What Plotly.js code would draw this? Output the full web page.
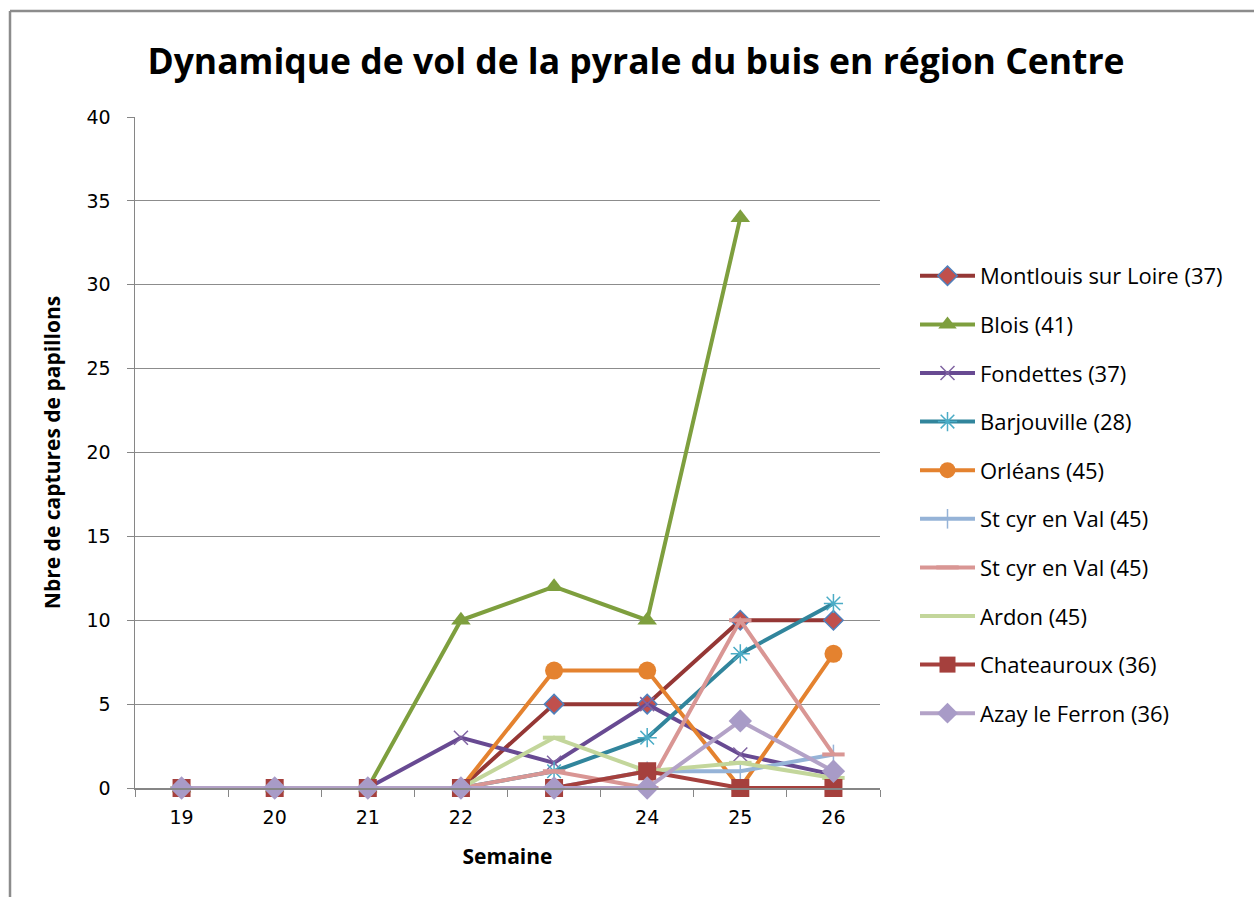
<!DOCTYPE html>
<html>
<head>
<meta charset="utf-8">
<script src="https://cdn.plot.ly/plotly-3.0.1.min.js"></script>
<style>html,body{margin:0;padding:0;background:#fff;}#chart{width:1254px;height:897px;}</style>
</head>
<body>
<div id="chart"></div>
<script>
const weeks = ['19','20','21','22','23','24','25','26'];
const seriesNames = ['Montlouis sur Loire (37)','Blois (41)','Fondettes (37)','Barjouville (28)','Orléans (45)','St cyr en Val (45)','St cyr en Val (45)','Ardon (45)','Chateauroux (36)','Azay le Ferron (36)'];
const montlouis   = [0,0,0,0,5,5,10,10];
const blois       = [0,0,0,10,12,10,34,null];
const fondettes   = [0,0,0,3,1.5,5,2,0.8];
const barjouville = [0,0,0,0,1,3,8,11];
const orleans     = [0,0,0,0,7,7,0,8];
const stcyr1      = [0,0,0,0,0,1,1,2];
const stcyr2      = [0,0,0,0,1,0,10,2];
const ardon       = [0,0,0,0,3,1,1.5,0.6];
const chateauroux = [0,0,0,0,0,1,0,0];
const azay        = [0,0,0,0,0,0,4,1];
const values = [montlouis,blois,fondettes,barjouville,orleans,stcyr1,stcyr2,ardon,chateauroux,azay];

const styles = [
  {line:'#953735', marker:{symbol:'diamond', size:15, color:'#C0504D', line:{color:'#4F81BD', width:1.5}}},
  {line:'#7E9F3E', marker:{symbol:'triangle-up', size:17, color:'#7E9F3E'}},
  {line:'#684A92', marker:{symbol:'x-thin-open', size:14, color:'#8064A2', line:{color:'#8064A2', width:1.5}}},
  {line:'#31859C', marker:{symbol:'asterisk-open', size:16, color:'#4BACC6', line:{color:'#4BACC6', width:1.5}}},
  {line:'#E4822F', marker:{symbol:'circle', size:18, color:'#E4822F'}},
  {line:'#95B3D7', marker:{symbol:'line-ns-open', size:14, color:'#95B3D7', line:{color:'#95B3D7', width:1.5}}},
  {line:'#D99694', marker:{symbol:'line-ew-open', size:16, color:'#D99694', line:{color:'#D99694', width:4}}},
  {line:'#C3D69B', marker:{symbol:'line-ew-open', size:16, color:'#C3D69B', line:{color:'#C3D69B', width:4}}},
  {line:'#A5403D', marker:{symbol:'square', size:18, color:'#A5403D'}},
  {line:'#B3A2C7', marker:{symbol:'diamond', size:18, color:'#A89BC7'}}
];

const traces = seriesNames.map((n,i)=>({
  type:'scatter', mode:'lines+markers', name:n, x:weeks, y:values[i],
  line:{color:styles[i].line, width:4}, marker:styles[i].marker,
  legendgroup:'g'+i, connectgaps:false, cliponaxis:false
}));

const L=135, R=880, T=117, B=788;
const px = v => (v-L)/(R-L), py = v => (B-v)/(B-T);

const layout = {
  width:1254, height:897,
  margin:{l:L, r:1254-R, t:T, b:897-B},
  paper_bgcolor:'#fff', plot_bgcolor:'#fff',
  font:{family:'Open Sans, sans-serif', color:'#000'},
  title:{text:'<b>Dynamique de vol de la pyrale du buis en région Centre</b>', x:636/1254, xanchor:'center', y:1-62/897, yanchor:'middle', font:{size:35.5, family:'Open Sans', color:'#000'}},
  xaxis:{type:'category', range:[-0.5,7.5], tickson:'boundaries', ticks:'outside', ticklen:7, tickcolor:'#868686', showline:true, linecolor:'#868686', linewidth:1.5, showgrid:false, zeroline:false,
    ticklabelstandoff:12,
    tickfont:{size:19, family:'DejaVu Sans', color:'#000'},
    title:{text:'<b>Semaine</b>', font:{size:21, family:'Open Sans', color:'#000'}, standoff:22}},
  yaxis:{range:[0,40], dtick:5, ticks:'outside', ticklen:7, tickcolor:'#868686', showline:true, linecolor:'#868686', linewidth:1.5, showgrid:true, gridcolor:'#8c8c8c', gridwidth:1, zeroline:false,
    ticklabelstandoff:12,
    tickfont:{size:19, family:'DejaVu Sans', color:'#000'},
    title:{text:'<b>Nbre de captures de papillons</b>', font:{size:21, family:'Open Sans', color:'#000'}, standoff:20}},
  legend:{x:px(915), xanchor:'left', y:py(255), yanchor:'top', font:{size:22, family:'Open Sans', color:'#000'}, itemwidth:55, tracegroupgap:17, traceorder:'grouped', bgcolor:'rgba(0,0,0,0)'},
  shapes:[
    {type:'line', xref:'paper', yref:'paper', x0:px(10), x1:px(1260), y0:py(11), y1:py(11), line:{color:'#8c8c8c', width:2.5}},
    {type:'line', xref:'paper', yref:'paper', x0:px(10), x1:px(10), y0:py(11), y1:py(900), line:{color:'#8c8c8c', width:2.5}}
  ],
  showlegend:true
};

Plotly.newPlot('chart', traces, layout, {displayModeBar:false, staticPlot:true});
</script>
</body>
</html>
